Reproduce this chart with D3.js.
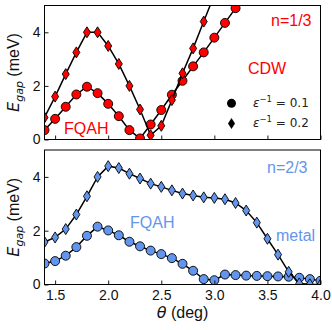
<!DOCTYPE html>
<html>
<head>
<meta charset="utf-8">
<script src="https://cdn.jsdelivr.net/npm/d3@7"></script>
<style>
  html, body { margin: 0; padding: 0; background: #fff; }
  svg { display: block; }
  text { font-family: "Liberation Sans", Arial, sans-serif; }
  .math { font-family: "DejaVu Sans", sans-serif; }
</style>
</head>
<body>
<div id="chart"></div>
<script>
/* ---------- data ---------- */
const thetaTopA = [1.4,1.5,1.6,1.7,1.8,1.9,2.0,2.1,2.2,2.3,2.4,2.5,2.6,2.7,2.8,2.9,3.0,3.1,3.2,3.3];
const gapTopA   = [0.35,0.77,1.22,1.68,1.97,1.73,1.33,0.87,0.35,0.04,0.56,1.10,1.67,2.19,2.73,3.25,3.80,4.35,4.90,5.45];
const thetaTopB = [1.4,1.5,1.6,1.7,1.8,1.9,2.0,2.1,2.2,2.3,2.4,2.5,2.6,2.7,2.8,2.9,3.0];
const gapTopB   = [0.82,1.60,2.44,3.25,4.00,4.00,3.49,2.82,2.00,1.12,0.16,0.51,1.47,2.47,3.40,4.40,5.40];

const thetaBot  = [1.4,1.5,1.6,1.7,1.8,1.9,2.0,2.1,2.2,2.3,2.4,2.5,2.6,2.7,2.8,2.9,3.0,3.1,3.2,3.3,3.4,3.5,3.6,3.7,3.8,3.9,4.0];
const gapBotA   = [0.78,0.87,1.07,1.39,1.81,2.15,2.01,1.83,1.59,1.42,1.26,1.13,0.98,0.77,0.51,0.20,0.16,0.37,0.35,0.33,0.32,0.31,0.30,0.29,0.25,0.20,0.14];
const gapBotB   = [1.58,1.75,2.06,2.60,3.28,4.00,4.40,4.33,4.12,3.94,3.75,3.63,3.50,3.38,3.31,3.24,3.22,3.17,3.03,2.75,2.30,1.70,1.11,0.47,0.04,0.01,0.00];

const xTicks = [1.5, 2.0, 2.5, 3.0, 3.5, 4.0];
const yTicks = [0, 2, 4];
const xDomain = [1.4, 4.0];
const yDomain = [0, 5];

/* ---------- layout ---------- */
const W = 332, H = 330;
const RED  = '#ff0000';
const BLUE = '#6495ed';

const svg = d3.select('#chart').append('svg')
  .attr('width', W).attr('height', H);

const x = d3.scaleLinear().domain(xDomain).range([44.5, 320.5]);

const panels = [
  { top: 5.5, bottom: 139.5, color: RED,  a: [thetaTopA, gapTopA], b: [thetaTopB, gapTopB], showX: false },
  { top: 150, bottom: 284.5, color: BLUE, a: [thetaBot,  gapBotA], b: [thetaBot,  gapBotB], showX: true },
];

const zip = (xs, ys) => xs.map((t, i) => ({ t, v: ys[i] }));
const diamond = 'M0,-5.5L3.5,0L0,5.5L-3.5,0Z';

panels.forEach((p, k) => {
  const y = d3.scaleLinear().domain(yDomain).range([p.bottom, p.top]);
  p.y = y;

  const clipId = `clip${k}`;
  svg.append('clipPath').attr('id', clipId)
    .append('rect')
    .attr('x', x.range()[0]).attr('y', p.top)
    .attr('width', x.range()[1] - x.range()[0])
    .attr('height', p.bottom - p.top);

  const g = svg.append('g').attr('clip-path', `url(#${clipId})`);
  const line = d3.line().x(d => x(d.t)).y(d => y(d.v));

  /* eps^-1 = 0.1 : circles */
  const da = zip(...p.a);
  g.append('path').datum(da).attr('d', line)
    .attr('fill', 'none').attr('stroke', '#000').attr('stroke-width', 1.5);
  g.selectAll(null).data(da).join('circle')
    .attr('cx', d => x(d.t)).attr('cy', d => y(d.v)).attr('r', 4.5)
    .attr('fill', p.color).attr('stroke', '#000').attr('stroke-width', 0.9);

  /* eps^-1 = 0.2 : thin diamonds */
  const db = zip(...p.b);
  g.append('path').datum(db).attr('d', line)
    .attr('fill', 'none').attr('stroke', '#000').attr('stroke-width', 1.5);
  g.selectAll(null).data(db).join('path')
    .attr('d', diamond)
    .attr('transform', d => `translate(${x(d.t)},${y(d.v)})`)
    .attr('fill', p.color).attr('stroke', '#000').attr('stroke-width', 0.9);

  /* axes: inward ticks */
  const yAxis = svg.append('g').attr('transform', `translate(${x.range()[0]},0)`)
    .call(d3.axisLeft(y).tickValues(yTicks).tickFormat(d3.format('d'))
      .tickSizeInner(-4).tickSizeOuter(0).tickPadding(4));
  const xAxis = svg.append('g').attr('transform', `translate(0,${p.bottom})`)
    .call(d3.axisBottom(x).tickValues(xTicks).tickFormat(d3.format('.1f'))
      .tickSizeInner(-4).tickSizeOuter(0).tickPadding(6));
  if (!p.showX) xAxis.selectAll('text').remove();

  [xAxis, yAxis].forEach(a => {
    a.select('.domain').remove();
    a.selectAll('line').attr('stroke', '#000').attr('stroke-width', 0.9);
    a.selectAll('text').attr('fill', '#111')
      .style('font-family', '"Liberation Sans", Arial, sans-serif').style('font-size', '14px');
  });

  /* frame */
  svg.append('rect')
    .attr('x', x.range()[0]).attr('y', p.top)
    .attr('width', x.range()[1] - x.range()[0]).attr('height', p.bottom - p.top)
    .attr('fill', 'none').attr('stroke', '#000').attr('stroke-width', 1);

  /* y label */
  const yl = svg.append('text')
    .attr('transform', `translate(19,${(p.top + p.bottom) / 2}) rotate(-90)`)
    .attr('text-anchor', 'middle').attr('fill', '#111').style('font-size', '16px');
  yl.append('tspan').attr('class', 'math').style('font-style', 'italic').text('E');
  yl.append('tspan').attr('class', 'math').style('font-style', 'italic')
    .style('font-size', '11px').attr('dy', 3.5).text('gap');
  yl.append('tspan').attr('dy', -3.5).text('\u00a0(meV)');
});

/* x label */
const xl = svg.append('text')
  .attr('x', x(2.7)).attr('y', 318).attr('text-anchor', 'middle')
  .attr('fill', '#111').style('font-size', '16px');
xl.append('tspan').attr('class', 'math').style('font-style', 'italic').text('\u03b8');
xl.append('tspan').text(' (deg)');

/* annotations */
const note = (txt, px, py, color) =>
  svg.append('text').attr('x', px).attr('y', py).attr('fill', color)
    .style('font-size', '16px').text(txt);

const [pt, pb] = panels;
note('n=1/3', 271, pt.y(4.24), RED);
note('CDW',   248, pt.y(2.44), RED);
note('FQAH',  64,  pt.y(0.2), RED);
note('n=2/3', 267, pb.y(4.13), BLUE);
note('FQAH',  130, pb.y(2.09), BLUE);
note('metal', 276, pb.y(1.61), BLUE);

/* legend */
const leg = svg.append('g');
const legRows = [
  { sym: 'circle',  label: '0.1', yv: 1.35 },
  { sym: 'diamond', label: '0.2', yv: 0.6 },
];
legRows.forEach(r => {
  const cy = pt.y(r.yv);
  if (r.sym === 'circle') {
    leg.append('circle').attr('cx', 231.5).attr('cy', cy).attr('r', 4.5).attr('fill', '#000');
  } else {
    leg.append('path').attr('d', diamond).attr('transform', `translate(231.5,${cy})`).attr('fill', '#000');
  }
  const t = leg.append('text').attr('class', 'math').attr('x', 253).attr('y', cy + 4)
    .attr('fill', '#222').style('font-size', '12px');
  t.append('tspan').style('font-style', 'italic').text('\u03b5');
  t.append('tspan').style('font-size', '8.5px').attr('dy', -5).text('\u22121');
  t.append('tspan').attr('dy', 5).text(' = ' + r.label);
});
</script>
</body>
</html>
